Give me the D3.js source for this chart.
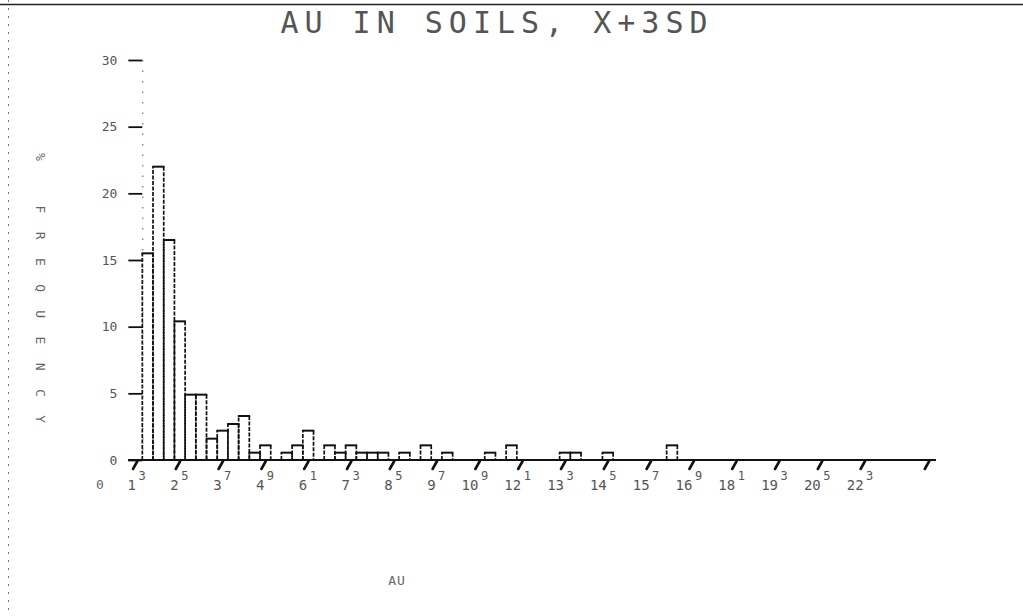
<!DOCTYPE html>
<html>
<head>
<meta charset="utf-8">
<script src="https://cdn.jsdelivr.net/npm/d3@7"></script>
<style>
  html, body { margin: 0; padding: 0; background: #fff; }
  svg { display: block; }
  text { font-family: "DejaVu Sans Mono", "Liberation Mono", monospace; fill: #4a4a4a; }
</style>
</head>
<body>
<svg id="chart" width="1023" height="616"></svg>
<script>
// Percent frequency of Au values, 0.3-unit classes starting at 1.45
const binStart = 1.45;
const binWidth = 0.3;
const freq = [
  15.5, 22.0, 16.5, 10.4, 4.9, 4.9, 1.6, 2.2, 2.7, 3.3,
  0.55, 1.1, 0, 0.55, 1.1, 2.2, 0, 1.1, 0.55, 1.1,
  0.55, 0.55, 0.55, 0, 0.55, 0, 1.1, 0, 0.55, 0,
  0, 0, 0.55, 0, 1.1, 0, 0, 0, 0, 0.55,
  0.55, 0, 0, 0.55, 0, 0, 0, 0, 0, 1.1
];

// Axis ticks
const yTicks = [0, 5, 10, 15, 20, 25, 30];
const xTickValues = [1.3, 2.5, 3.7, 4.9, 6.1, 7.3, 8.5, 9.7, 10.9, 12.1,
                     13.3, 14.5, 15.7, 16.9, 18.1, 19.3, 20.5, 21.7, 23.5];
const xTickLabels = ["1.3", "2.5", "3.7", "4.9", "6.1", "7.3", "8.5", "9.7", "10.9", "12.1",
                     "13.3", "14.5", "15.7", "16.9", "18.1", "19.3", "20.5", "22.3", ""];
const originLabel = "0";

const titleText = "AU IN SOILS, X+3SD";
const xTitle = "AU";
const yTitle = "%  FREQUENCY";

const svg = d3.select("#chart");

const x = d3.scaleLinear().domain([0, 23.5]).range([90.6, 928.8]);
const y = d3.scaleLinear().domain([0, 30]).range([460, 60]);

// page edges
svg.append("line")
  .attr("x1", 0).attr("x2", 1023).attr("y1", 4.5).attr("y2", 4.5)
  .attr("stroke", "#222").attr("stroke-width", 1.5);
svg.append("line")
  .attr("x1", 8.5).attr("x2", 8.5).attr("y1", 0).attr("y2", 616)
  .attr("stroke", "#777").attr("stroke-width", 1)
  .attr("stroke-dasharray", "2,6");

// title
svg.append("text")
  .attr("x", 497).attr("y", 33)
  .attr("text-anchor", "middle")
  .attr("font-size", 30)
  .attr("letter-spacing", 6)
  .style("fill", "#555")
  .text(titleText);

// bars: solid tops, dotted sides like a dot-matrix plot
const bars = svg.append("g").attr("class", "bars");
freq.forEach((v, i) => {
  if (v <= 0) return;
  const x0 = x(binStart + i * binWidth);
  const x1 = x(binStart + (i + 1) * binWidth);
  const yt = y(v);
  const yb = y(0);
  bars.append("path")
    .attr("d", `M${x0},${yb}V${yt}M${x1},${yt}V${yb}`)
    .attr("fill", "none").attr("stroke", "#111")
    .attr("stroke-width", 1.7).attr("stroke-dasharray", "4,1.5");
  bars.append("path")
    .attr("d", `M${x0 - 0.8},${yt}H${x1 + 0.8}`)
    .attr("fill", "none").attr("stroke", "#111").attr("stroke-width", 2);
});

// y axis
const yAxis = svg.append("g")
  .attr("transform", `translate(${x(binStart)},0)`)
  .call(d3.axisLeft(y).tickValues(yTicks).tickSize(14).tickSizeOuter(0).tickPadding(11));
yAxis.select(".domain")
  .attr("stroke", "#555").attr("stroke-width", 1)
  .attr("stroke-dasharray", "1.5,9");
yAxis.selectAll(".tick line").attr("stroke", "#111").attr("stroke-width", 1.8);
yAxis.selectAll(".tick text")
  .attr("font-family", "DejaVu Sans Mono, monospace")
  .attr("font-size", 13).style("fill", "#555");

// x axis baseline
svg.append("line")
  .attr("x1", x(1.05)).attr("x2", x(23.7))
  .attr("y1", y(0)).attr("y2", y(0))
  .attr("stroke", "#111").attr("stroke-width", 2);

// x axis ticks drawn as slashes, labels with raised decimal digit
const xAxis = svg.append("g")
  .attr("transform", `translate(0,${y(0)})`)
  .call(d3.axisBottom(x).tickValues(xTickValues).tickSize(0).tickFormat(""));
xAxis.select(".domain").remove();
xAxis.selectAll(".tick").each(function(d, i) {
  const g = d3.select(this);
  g.append("path")
    .attr("d", "M0,1L-4.5,9")
    .attr("stroke", "#111").attr("stroke-width", 2.6)
    .attr("stroke-linecap", "round").attr("fill", "none");
  const lab = xTickLabels[i];
  if (!lab) return;
  const [whole, dec] = lab.split(".");
  g.append("text")
    .attr("x", -1.5).attr("y", 30)
    .attr("text-anchor", "end")
    .attr("font-size", 14)
    .style("fill", "#555")
    .text(whole);
  g.append("text")
    .attr("x", 1).attr("y", 20)
    .attr("text-anchor", "start")
    .attr("font-size", 12)
    .style("fill", "#555")
    .text(dec);
});

// origin label
svg.append("text")
  .attr("x", x(xTickValues[0]) - 37).attr("y", y(0) + 29)
  .attr("text-anchor", "middle")
  .attr("font-size", 13)
  .style("fill", "#666")
  .text(originLabel);

// axis titles
svg.append("text")
  .attr("x", 397).attr("y", 585)
  .attr("text-anchor", "middle")
  .attr("font-size", 13)
  .attr("letter-spacing", 1)
  .style("fill", "#666")
  .text(xTitle);

svg.append("text")
  .attr("transform", "translate(36,153) rotate(90)")
  .attr("text-anchor", "start")
  .attr("font-size", 13)
  .attr("letter-spacing", 18.4)
  .style("fill", "#666")
  .text(yTitle);
</script>
</body>
</html>
